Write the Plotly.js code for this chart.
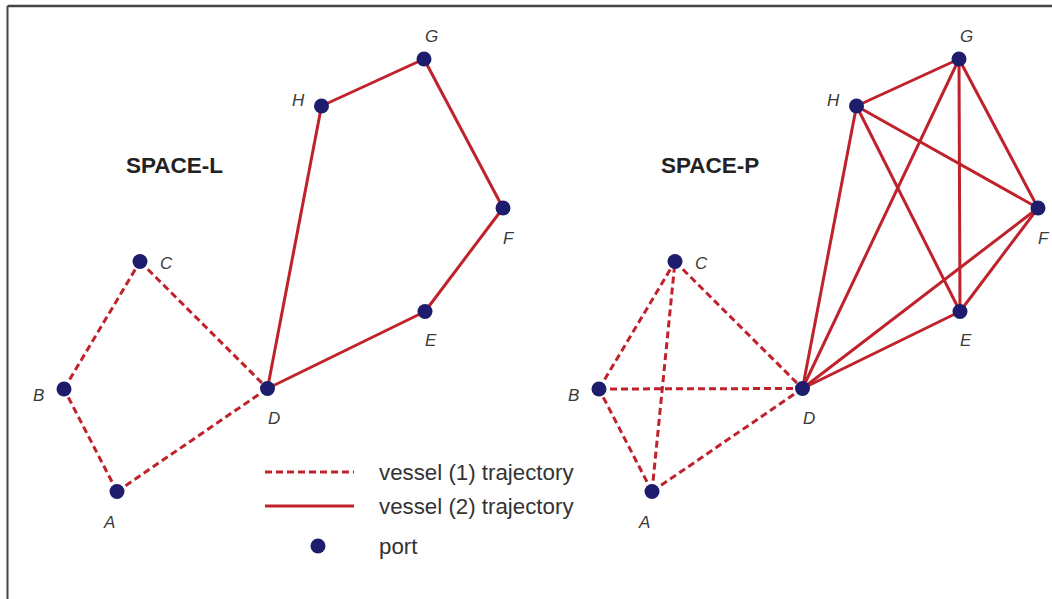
<!DOCTYPE html>
<html>
<head>
<meta charset="utf-8">
<script src="https://cdn.plot.ly/plotly-3.0.1.min.js"></script>
<style>html,body{margin:0;padding:0;background:#fff;}#chart{width:1052px;height:599px;}</style>
</head>
<body>
<div id="chart"></div>
<script>
// ---- data: port positions (same layout in both spaces) ----
const portNames = ["A", "B", "C", "D", "E", "F", "G", "H"];
const portX = [117, 64, 140, 267.5, 425, 503, 424, 321.5];
const portY = [491.5, 389, 261.5, 388.5, 311.5, 208, 59, 106];

// ---- data: trajectories (edges between ports) ----
const spaceL_vessel1 = [["A","B"],["B","C"],["C","D"],["D","A"]];
const spaceL_vessel2 = [["D","H"],["H","G"],["G","F"],["F","E"],["E","D"]];
const spaceP_vessel1 = [["A","B"],["A","C"],["A","D"],["B","C"],["B","D"],["C","D"]];
const spaceP_vessel2 = [["D","H"],["D","G"],["D","F"],["D","E"],["H","G"],["H","F"],["H","E"],["G","F"],["G","E"],["F","E"]];

const spaceTitles = ["SPACE-L", "SPACE-P"];
const legendLabels = ["vessel (1) trajectory", "vessel (2) trajectory", "port"];

// ---- styles ----
const RED = "rgb(192,34,44)";
const NAVY = "rgb(30,28,108)";
const TXT = "#333333";
const FONT = "Liberation Sans, Arial, sans-serif";
const labelOffset = { A:[-8,31], B:[-26,6], C:[26,2], D:[6,30], E:[6,29], F:[6,30], G:[7,-23], H:[-23,-6] };

function idx(n){ return portNames.indexOf(n); }
function edgeXY(pairs){
  const x = [], y = [];
  pairs.forEach(p => {
    x.push(portX[idx(p[0])], portX[idx(p[1])], null);
    y.push(portY[idx(p[0])], portY[idx(p[1])], null);
  });
  return {x, y};
}
function edgeTrace(pairs, dash, xa, ya){
  const e = edgeXY(pairs);
  return { type:"scatter", mode:"lines", x:e.x, y:e.y, xaxis:xa, yaxis:ya,
    line:{color:RED, width:3, dash:dash}, hoverinfo:"skip", showlegend:false };
}
function nodeTrace(xa, ya){
  return { type:"scatter", mode:"markers", x:portX, y:portY, text:portNames, xaxis:xa, yaxis:ya,
    marker:{color:NAVY, size:15, line:{width:0}}, hoverinfo:"text", showlegend:false };
}

const traces = [
  edgeTrace(spaceL_vessel1, "7px,4px", "x", "y"),
  edgeTrace(spaceL_vessel2, "solid", "x", "y"),
  nodeTrace("x", "y"),
  edgeTrace(spaceP_vessel1, "7px,4px", "x2", "y2"),
  edgeTrace(spaceP_vessel2, "solid", "x2", "y2"),
  nodeTrace("x2", "y2")
];

const annotations = [];
["x","x2"].forEach((xr, k) => {
  const yr = k === 0 ? "y" : "y2";
  portNames.forEach((n, i) => {
    annotations.push({ x:portX[i], y:portY[i], xref:xr, yref:yr, text:"<i>"+n+"</i>", showarrow:false,
      xshift:labelOffset[n][0], yshift:-labelOffset[n][1], font:{family:FONT, size:17, color:"#3a3a3a"} });
  });
  annotations.push({ x:174.5, y:165, xref:xr, yref:yr, text:"<b>"+spaceTitles[k]+"</b>", showarrow:false,
    font:{family:FONT, size:22.5, color:"#222"} });
});
// legend text
const legY = [472, 506, 546];
legendLabels.forEach((t, i) => {
  annotations.push({ x:377, y:legY[i], xref:"x", yref:"y", xanchor:"left", text:t, showarrow:false,
    font:{family:FONT, size:22.3, color:TXT} });
});

const shapes = [
  // frame
  {type:"line", xref:"paper", yref:"paper", x0:7.5/1052, x1:7.5/1052, y0:0, y1:1-6/599, line:{color:"#444", width:2}},
  {type:"line", xref:"paper", yref:"paper", x0:7.5/1052, x1:1, y0:1-6/599, y1:1-6/599, line:{color:"#444", width:2.5}},
  // legend samples
  {type:"line", xref:"x", yref:"y", x0:265, x1:354, y0:legY[0], y1:legY[0], line:{color:RED, width:3, dash:"7px,4px"}},
  {type:"line", xref:"x", yref:"y", x0:265, x1:354, y0:legY[1], y1:legY[1], line:{color:RED, width:3}},
  {type:"circle", xref:"x", yref:"y", x0:310.5, x1:325.5, y0:legY[2]-7.5, y1:legY[2]+7.5, fillcolor:NAVY, line:{width:0}}
];

const axBase = { visible:false, showgrid:false, zeroline:false, fixedrange:true };
const layout = {
  width:1052, height:599,
  margin:{l:0, r:0, t:0, b:0, pad:0},
  paper_bgcolor:"#ffffff", plot_bgcolor:"rgba(0,0,0,0)",
  showlegend:false,
  xaxis: Object.assign({}, axBase, {domain:[0, 535/1052], range:[0, 535]}),
  yaxis: Object.assign({}, axBase, {domain:[0, 1], range:[599, 0]}),
  xaxis2: Object.assign({}, axBase, {domain:[535/1052, 1], range:[0, 517], anchor:"y2"}),
  yaxis2: Object.assign({}, axBase, {domain:[0, 1], range:[599, 0], anchor:"x2"}),
  annotations: annotations,
  shapes: shapes
};

Plotly.newPlot("chart", traces, layout, {staticPlot:true, displayModeBar:false});
</script>
</body>
</html>
